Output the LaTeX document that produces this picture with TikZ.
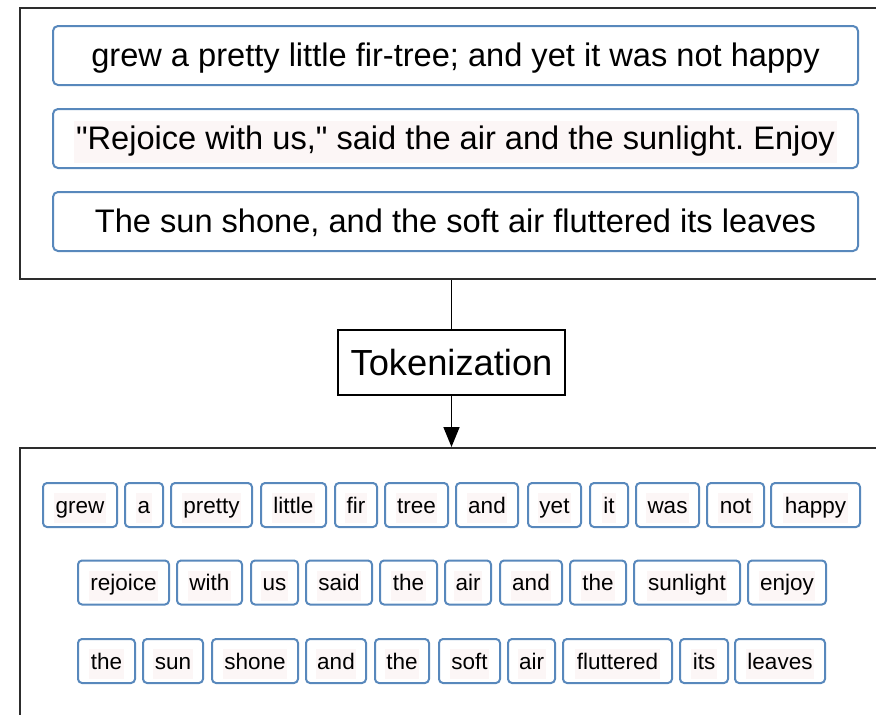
\documentclass[tikz,border=0pt]{standalone}
\usepackage{fontspec}
\setmainfont{Liberation Sans}[Ligatures=TeXOff]
\usetikzlibrary{arrows.meta}
\definecolor{boxblue}{RGB}{88,136,188}
\definecolor{frame}{RGB}{45,45,45}
\definecolor{hlback}{RGB}{252,246,246}
\frenchspacing
% lower the text inside a box without changing the box's own size
\newcommand{\lowered}[1]{\raisebox{-3pt}[\height][\depth]{#1}}
\newcommand{\hlword}[1]{\lowered{\setlength{\fboxsep}{1.5pt}\colorbox{hlback}{\strut #1}}}
\tikzset{
  container/.style={draw=frame, line width=2pt, anchor=north west, inner sep=0pt},
  sentence/.style={draw=boxblue, line width=2pt, rounded corners=5pt, minimum width=805pt,
    minimum height=59pt, inner sep=0pt, font=\fontsize{32.6}{38}\selectfont},
  stepname/.style={draw=black, line width=1.6pt, minimum width=227pt, minimum height=65pt,
    inner sep=0pt, fill=white, font=\fontsize{36.3}{42}\selectfont},
  token/.style={draw=boxblue, line width=2pt, rounded corners=4pt, minimum height=44pt,
    inner sep=0pt, font=\fontsize{22.5}{27}\selectfont},
  link/.style={draw=black, line width=1.6pt},
}
\begin{document}
\begin{tikzpicture}[x=1pt, y=-1pt]
  \useasboundingbox (0,0) rectangle (876,715);
  \clip (0,0) rectangle (876,715);
  \fill[white] (0,0) rectangle (876,715);

  % source sentences
  \node[container, minimum width=880pt, minimum height=271pt] (src) at (19,7) {};
  \node[sentence] (s1) at (455.5,55.5) {\lowered{\strut grew a pretty little fir-tree; and yet it was not happy}};
  \node[sentence] (s2) at (455.5,138.5) {\lowered{\setlength{\fboxsep}{2pt}\colorbox{hlback}{\strut "Rejoice with us," said the air and the sunlight. Enjoy}}};
  \node[sentence] (s3) at (455.5,221.5) {\lowered{\strut The sun shone, and the soft air fluttered its leaves}};

  % processing step
  \node[stepname] (tok) at (451.5,362.5) {Tokenization};

  % token container
  \node[container, minimum width=880pt, minimum height=300pt] (dst) at (19,447) {};

  \draw[link] (tok.north |- src.south) -- (tok.north);
  \draw[link, -{Triangle[length=20pt, width=16pt]}] (tok.south) -- (tok.south |- dst.north);

  % tokens: left/right/word
  \foreach \xa/\xb/\w [count=\i] in {42/118/grew, 124/164/a, 170/253/pretty, 260/327/little,
      334/378/fir, 384/449/tree, 455/519/and, 527/582/yet, 589/629/it, 635/700/was,
      706/765/not, 770/861/happy}
    \node[token, minimum width={\xb-\xa-2}] (ta\i) at ({(\xa+\xb)/2},505) {\hlword{\w}};
  \foreach \xa/\xb/\w [count=\i] in {77/170/rejoice, 176/243/with, 250/299/us, 305/373/said,
      379/438/the, 444/492/air, 499/563/and, 569/627/the, 633/741/sunlight, 747/827/enjoy}
    \node[token, minimum width={\xb-\xa-2}] (tb\i) at ({(\xa+\xb)/2},582.5) {\hlword{\w}};
  \foreach \xa/\xb/\w [count=\i] in {77/136/the, 142/204/sun, 211/299/shone, 305/367/and,
      374/430/the, 438/501/soft, 507/556/air, 562/673/fluttered, 679/729/its, 734/826/leaves}
    \node[token, minimum width={\xb-\xa-2}] (tc\i) at ({(\xa+\xb)/2},661) {\hlword{\w}};
\end{tikzpicture}
\end{document}
